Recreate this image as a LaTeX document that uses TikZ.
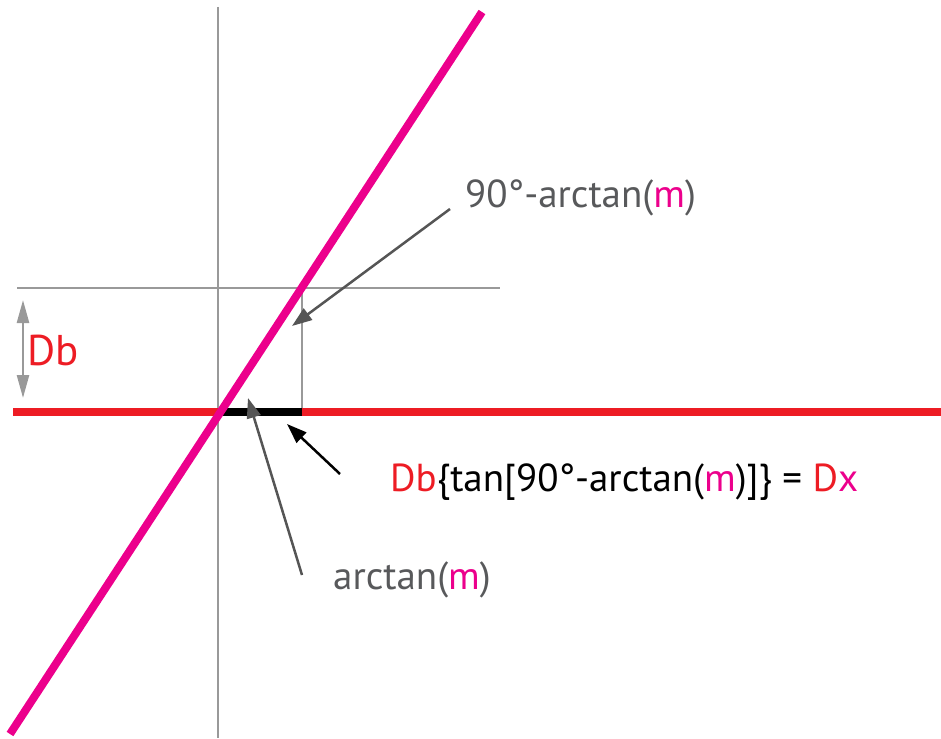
\documentclass[tikz,border=0pt]{standalone}
\usepackage{fontspec}
\setmainfont{PT Sans}
\usetikzlibrary{arrows.meta}
\definecolor{mag}{HTML}{EC008C}
\definecolor{rd}{HTML}{ED1C24}
\definecolor{gl}{HTML}{999999}
\definecolor{ga}{HTML}{555555}
\definecolor{gt}{HTML}{58595B}
\begin{document}
\begin{tikzpicture}[x=1pt,y=-1pt,
  guide/.style={gl,line width=2pt},
  thick line/.style={line width=8pt},
  pointer/.style={line width=2.5pt,-{Triangle[length=20pt,width=14pt]}},
  lab/.style={inner sep=0pt,anchor=west,font=\fontsize{39}{43}\selectfont}]
\useasboundingbox (0,0) rectangle (941,738);
% coordinates
\coordinate (vtop) at (218,7);
\coordinate (vbot) at (218,738);
\coordinate (hl) at (17,288);
\coordinate (hr) at (500,288);
\coordinate (ptop) at (302,288);
\coordinate (pbot) at (302,412);
\coordinate (rl) at (13,412);
\coordinate (rr) at (941,412);
\coordinate (bl) at (218,412);
\coordinate (mt) at (482,12);
\coordinate (mb) at (10,734);
\coordinate (dbt) at (23,300);
\coordinate (dbb) at (23,398);
% guides
\draw[guide] (vtop) -- (vbot);
\draw[guide] (hl) -- (hr);
\draw[guide] (ptop) -- (pbot);
% red line and black segment
\draw[thick line,rd] (rl) -- (rr);
\draw[thick line,black] (bl) -- (pbot);
% magenta line
\draw[thick line,mag] (mb) -- (mt);
% Db arrow
\draw[gl,line width=2.5pt,{Triangle[length=23pt,width=12pt]}-{Triangle[length=23pt,width=12pt]}] (dbt) -- (dbb);
\node[lab,text=rd,font=\fontsize{43}{47}\selectfont] (db) at (27,350) {Db};
% labels
\node[lab,text=gt] (l1) at (465,198) {90°-arctan(\textcolor{mag}{m})};
\node[lab,text=gt] (l2) at (333,580) {arctan(\textcolor{mag}{m})};
\node[lab,text=black] (l3) at (390,482) {\textcolor{rd}{Db}\{tan[90°-arctan(\textcolor{mag}{m})]\} = \textcolor{rd}{D}\textcolor{mag}{x}};
% pointers
\coordinate (a1s) at (450,209);
\coordinate (a1e) at (292,326);
\coordinate (a2s) at (302,575);
\coordinate (a2e) at (248,398);
\coordinate (a3s) at (340,474);
\coordinate (a3e) at (287,424);
\draw[pointer,ga] (a1s) -- (a1e);
\draw[pointer,ga] (a2s) -- (a2e);
\draw[pointer,black] (a3s) -- (a3e);
\end{tikzpicture}
\end{document}
